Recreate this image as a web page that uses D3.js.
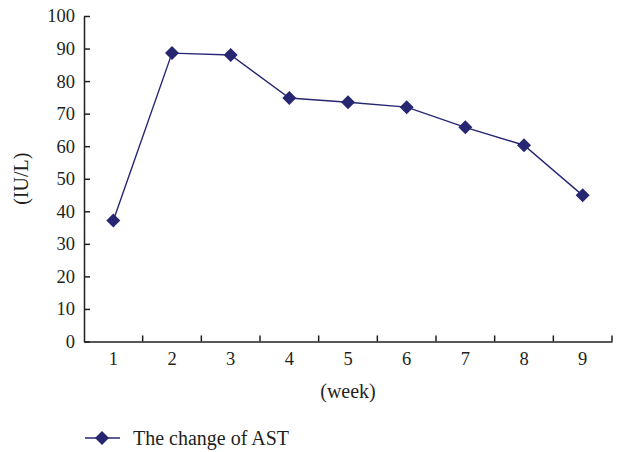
<!DOCTYPE html>
<html><head><meta charset="utf-8">
<script src="https://cdn.jsdelivr.net/npm/d3@7"></script>
<style>body{margin:0;background:#fff}svg{display:block}text{font-family:"Liberation Serif","DejaVu Serif",serif;fill:#231f20}</style>
</head><body>
<script>
const weeks = ["1","2","3","4","5","6","7","8","9"];
const ast = [37.2, 88.6, 88.0, 74.8, 73.5, 72.0, 65.8, 60.3, 44.9];
const yTicks = [0,10,20,30,40,50,60,70,80,90,100];
const seriesName = "The change of AST";

const W = 617, H = 452;
const m = {left:84, right:5, top:16, bottom:111};
const color = "#262673";
const svg = d3.select("body").append("svg").attr("width", W).attr("height", H);
const x = d3.scaleBand().domain(weeks).range([m.left, 612]).padding(0);
const y = d3.scaleLinear().domain([0,100]).range([341.5, m.top]);

const gy = svg.append("g").attr("transform", `translate(${m.left},0)`)
  .call(d3.axisLeft(y).tickValues(yTicks).tickSize(-6).tickPadding(12).tickSizeOuter(0));
gy.select(".domain").attr("stroke", "#231f20").attr("stroke-width", 1.5);
gy.selectAll(".tick line").attr("stroke", "#231f20").attr("stroke-width", 1.5);
gy.selectAll("text").attr("font-size", 18.5).attr("fill", "#231f20").attr("x", -9);

const gx = svg.append("g").attr("transform", `translate(0,${y(0)})`)
  .call(d3.axisBottom(x).tickSize(0).tickPadding(10));
gx.select(".domain").attr("stroke", "#231f20").attr("stroke-width", 1.5);
gx.selectAll("text").attr("font-size", 18.5).attr("fill", "#231f20").attr("dy", "0.71em");
const bounds = weeks.map(w => x(w)).concat([x(weeks[weeks.length-1]) + x.bandwidth()]).slice(1);
gx.selectAll(".bt").data(bounds).enter().append("line")
  .attr("x1", d => d).attr("x2", d => d).attr("y1", 0).attr("y2", -6)
  .attr("stroke", "#231f20").attr("stroke-width", 1.5);

const cx = d => x(d) + x.bandwidth()/2;
svg.append("path").datum(ast.map((v,i)=>[cx(weeks[i]), y(v)]))
  .attr("d", d3.line()).attr("fill","none").attr("stroke", color).attr("stroke-width", 1.4);
const r = 7;
const diamond = `M0,${-r}L${r},0L0,${r}L${-r},0Z`;
svg.selectAll(".pt").data(ast).enter().append("path")
  .attr("transform", (d,i)=>`translate(${cx(weeks[i])},${y(d)})`)
  .attr("d", diamond).attr("fill", color);

svg.append("text").attr("transform", `translate(28,${(y(0)+y(100))/2}) rotate(-90)`)
  .attr("text-anchor","middle").attr("font-size",20).text("(IU/L)");
svg.append("text").attr("x", 348).attr("y", 398)
  .attr("text-anchor","middle").attr("font-size",20).text("(week)");

const lg = svg.append("g").attr("transform","translate(0,438)");
lg.append("line").attr("x1",85).attr("x2",120).attr("y1",0).attr("y2",0).attr("stroke",color).attr("stroke-width",1.4);
lg.append("path").attr("transform","translate(102,0)").attr("d",diamond).attr("fill",color);
lg.append("text").attr("x",133).attr("y",7).attr("font-size",20).text(seriesName);
</script>
</body></html>
